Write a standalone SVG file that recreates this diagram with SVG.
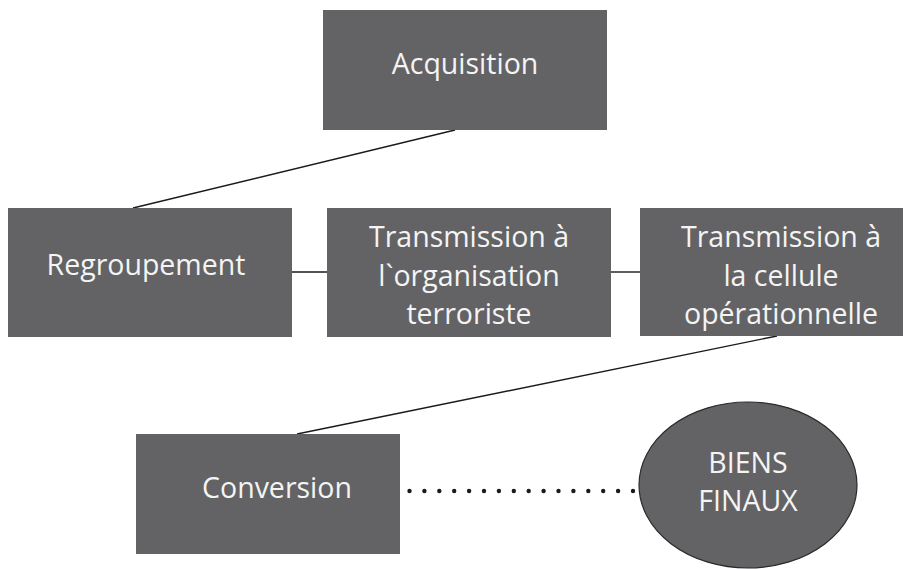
<svg xmlns="http://www.w3.org/2000/svg" width="916" height="569" viewBox="0 0 916 569">
  <style>
    .box { fill: #636365; }
    .oval { fill: #636365; stroke: #2a2a2a; stroke-width: 1.2; }
    .lbl { font-family: "Open Sans", "Liberation Sans", sans-serif; font-size: 28.5px; fill: #f4f4f4; text-anchor: middle; }
    .link { stroke: #1a1a1a; stroke-width: 1.4; fill: none; }
    .dot { fill: #1a1a1a; }
  </style>
  <rect width="916" height="569" fill="#ffffff"/>

  <g id="connectors">
    <line class="link" x1="455" y1="130" x2="133" y2="208"/>
    <line class="link" x1="292" y1="272" x2="327" y2="272"/>
    <line class="link" x1="611" y1="272" x2="640" y2="272"/>
    <line class="link" x1="777" y1="336" x2="297" y2="434"/>
    <g id="dotted">
      <circle class="dot" cx="409.5" cy="491" r="2.2"/>
      <circle class="dot" cx="424.4" cy="491" r="2.2"/>
      <circle class="dot" cx="439.3" cy="491" r="2.2"/>
      <circle class="dot" cx="454.2" cy="491" r="2.2"/>
      <circle class="dot" cx="469.1" cy="491" r="2.2"/>
      <circle class="dot" cx="484" cy="491" r="2.2"/>
      <circle class="dot" cx="498.9" cy="491" r="2.2"/>
      <circle class="dot" cx="513.8" cy="491" r="2.2"/>
      <circle class="dot" cx="528.7" cy="491" r="2.2"/>
      <circle class="dot" cx="543.6" cy="491" r="2.2"/>
      <circle class="dot" cx="558.5" cy="491" r="2.2"/>
      <circle class="dot" cx="573.4" cy="491" r="2.2"/>
      <circle class="dot" cx="588.3" cy="491" r="2.2"/>
      <circle class="dot" cx="603.2" cy="491" r="2.2"/>
      <circle class="dot" cx="618.1" cy="491" r="2.2"/>
      <circle class="dot" cx="633" cy="491" r="2.2"/>
    </g>
  </g>

  <g id="acquisition">
    <rect class="box" x="323" y="10" width="284" height="120"/>
    <text class="lbl" x="465" y="74">Acquisition</text>
  </g>

  <g id="regroupement">
    <rect class="box" x="8" y="208" width="284" height="129"/>
    <text class="lbl" x="146" y="275">Regroupement</text>
  </g>

  <g id="transmission-organisation">
    <rect class="box" x="327" y="208" width="284" height="129"/>
    <text class="lbl" x="469" y="247">Transmission à</text>
    <text class="lbl" x="469" y="286">l`organisation</text>
    <text class="lbl" x="469" y="324">terroriste</text>
  </g>

  <g id="transmission-cellule">
    <rect class="box" x="640" y="208" width="263" height="128"/>
    <text class="lbl" x="781" y="247">Transmission à</text>
    <text class="lbl" x="781" y="286">la cellule</text>
    <text class="lbl" x="781" y="324">opérationnelle</text>
  </g>

  <g id="conversion">
    <rect class="box" x="136" y="434" width="264" height="120"/>
    <text class="lbl" x="277" y="498">Conversion</text>
  </g>

  <g id="biens-finaux">
    <ellipse class="oval" cx="748" cy="485" rx="109" ry="83"/>
    <text class="lbl" x="748" y="473">BIENS</text>
    <text class="lbl" x="748" y="511">FINAUX</text>
  </g>
</svg>
